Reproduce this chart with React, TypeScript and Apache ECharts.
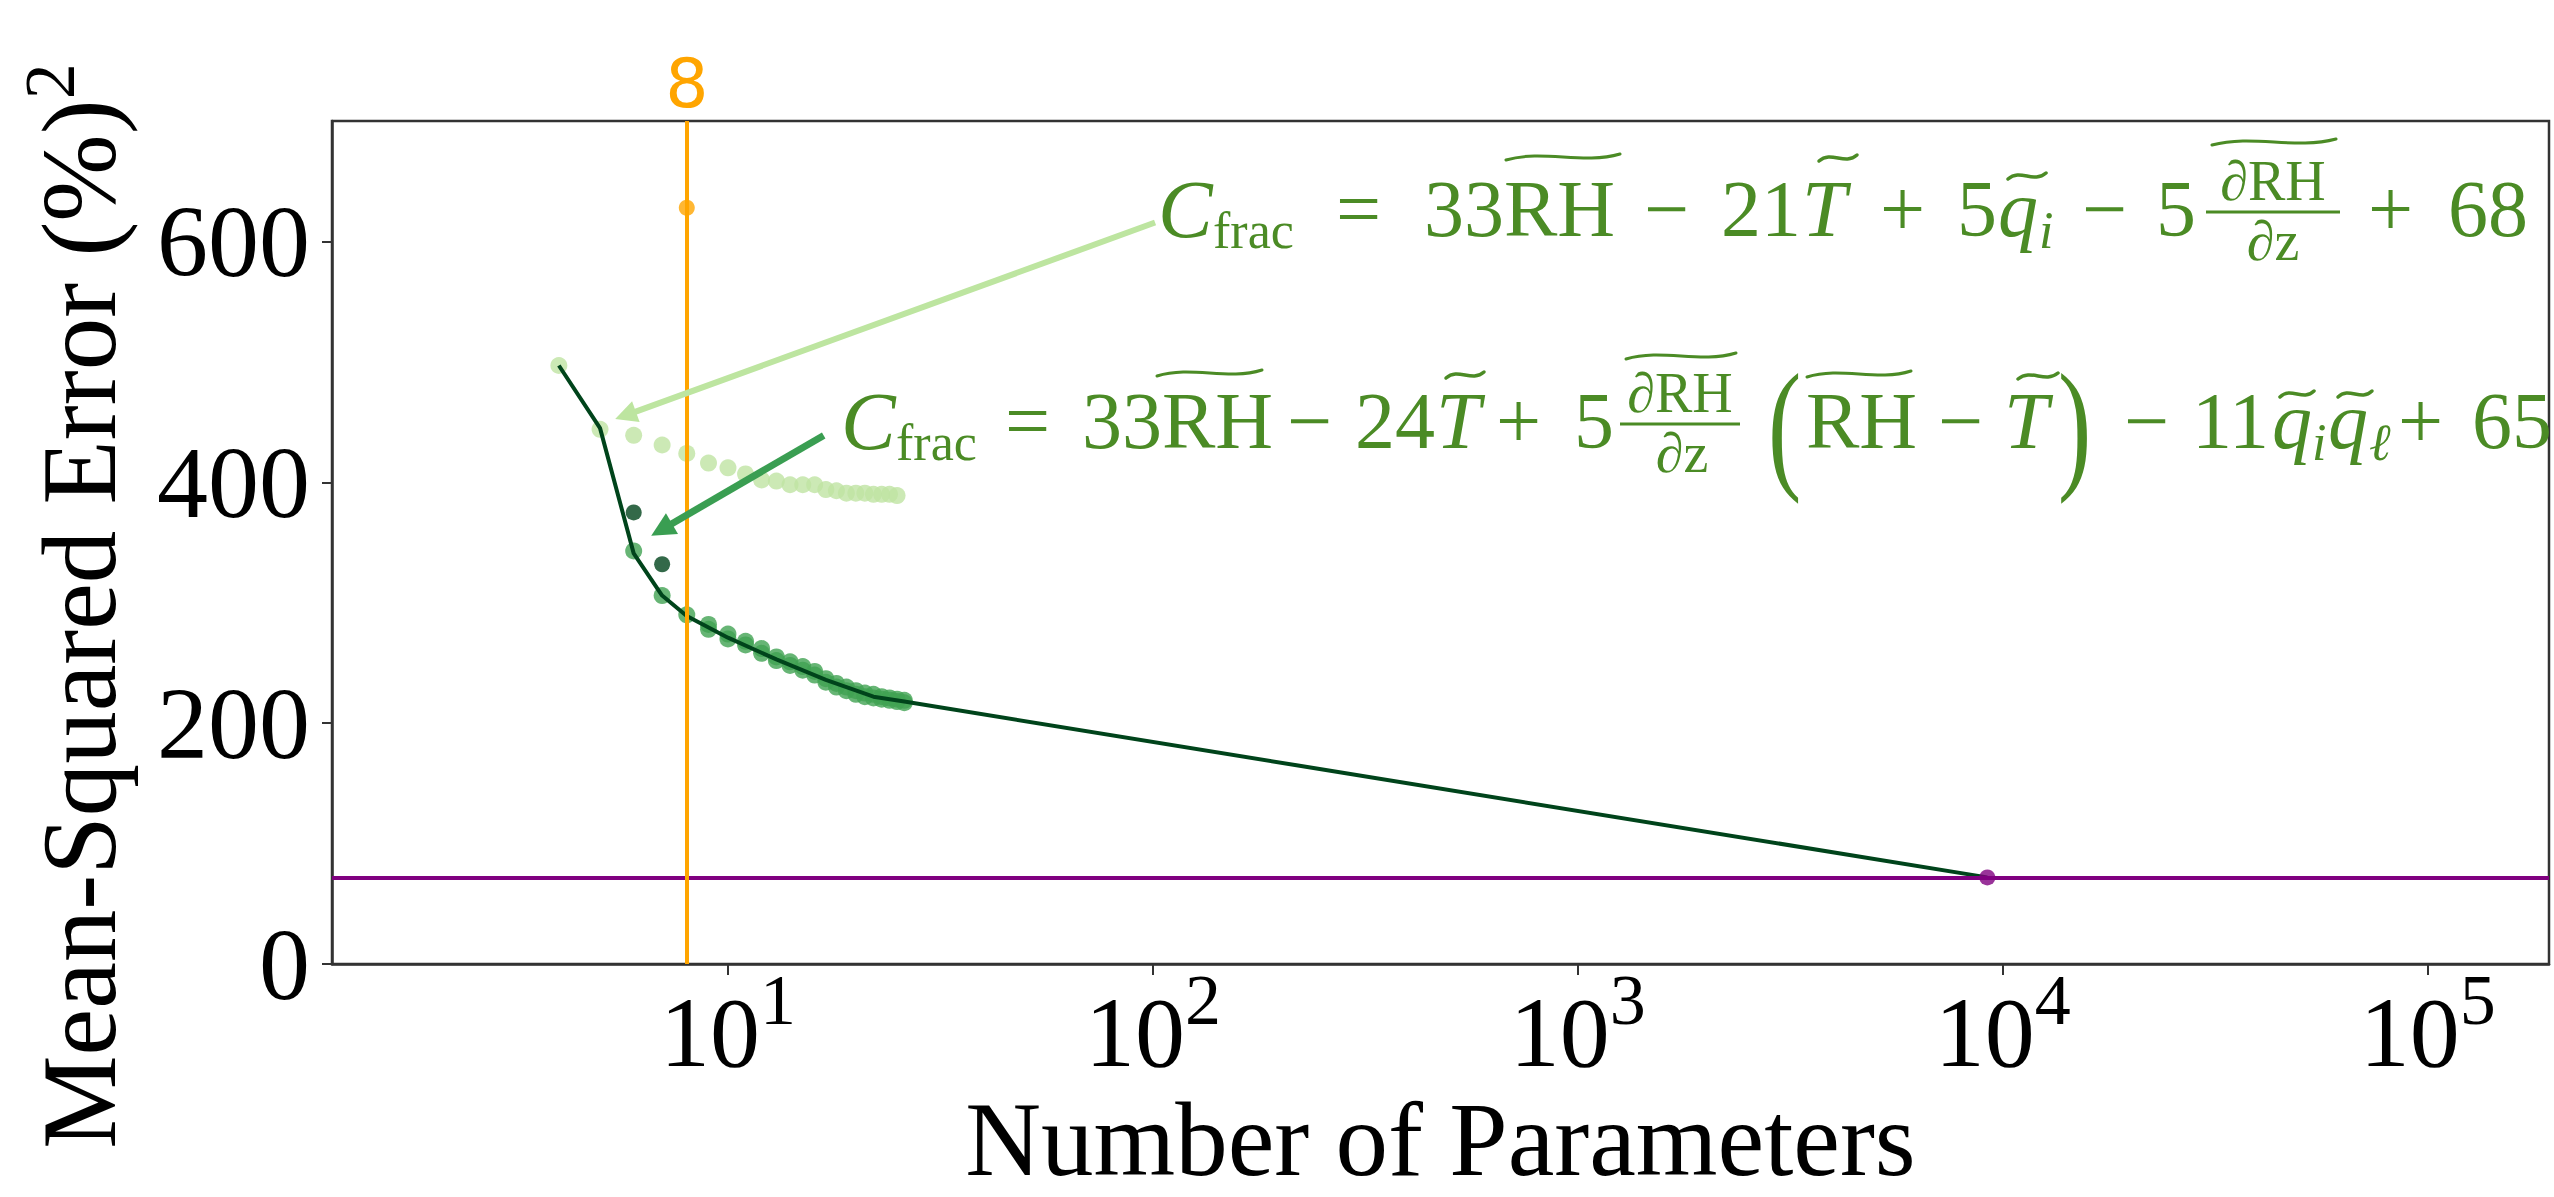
import React, { useEffect, useRef } from 'react';
import * as echarts from 'echarts';

// ---- data ----
const lightX = [4, 5, 6, 7, 8, 9, 10, 11, 12, 13, 14, 15, 16, 17, 18, 19, 20, 21, 22, 23, 24, 25];
const lightY = [497, 444, 439, 431, 424, 416, 412, 407, 402, 401, 398, 398, 398, 394, 393, 391, 391, 391, 390, 390, 390, 389];

const mediumX = [6, 7, 8, 9, 9, 10, 10, 11, 11, 12, 12, 13, 13, 14, 14, 15, 15, 16, 16, 17, 17, 18, 18, 19, 19, 20, 20, 21, 21, 22, 22, 23, 23, 24, 24, 25, 25, 26, 26];
const mediumY = [343, 306, 290, 282, 278, 274, 270, 268, 265, 262, 258, 255, 252, 251, 248, 247, 244, 243, 240, 237, 234, 233, 230, 230, 227, 227, 224, 225, 222, 224, 221, 222, 220, 221, 219, 220, 218, 219, 217];

const darkX = [6, 7];
const darkY = [375, 332];

const frontX = [4, 5, 6, 7, 8, 10, 13, 17, 22, 26, 9200];
const frontY = [497, 445, 341, 306, 289, 271, 253, 236, 222, 218, 72];

const chosenX = [8];
const chosenY = [628];
const nnX = [9200];
const nnY = [72];

const chosenComplexity = 8;
const nnError = 72;

const xTicks = [10, 100, 1000, 10000, 100000];
const yTicks = [0, 200, 400, 600];

// arrow anchors in data coordinates [x, y]
const arrow1From = [101.2, 615.7];
const arrow1To = [5.74, 455.6];
const arrow2From = [16.8, 438.9];
const arrow2To = [6.98, 360.7];

const zip = (xs: number[], ys: number[]) => xs.map((x, i) => [x, ys[i]]);

// ---- formula rendering helpers ----
const FC = '#4b8b25';
const SERIF = 'Liberation Serif';

function tok(text: string, x: number, baseline: number, size: number, italic = false, align = 'left') {
  return {
    type: 'text',
    x,
    y: baseline - 0.305 * size,
    z: 100,
    style: {
      text,
      fontSize: size,
      fontFamily: SERIF,
      fontStyle: italic ? 'italic' : 'normal',
      fill: FC,
      align,
      verticalAlign: 'middle',
    },
  };
}

function tilde(xa: number, xb: number, yc: number, amp: number, lw: number) {
  const w = xb - xa;
  return {
    type: 'bezierCurve',
    z: 100,
    shape: {
      x1: xa, y1: yc + amp * 0.6,
      cpx1: xa + w * 0.33, cpy1: yc - amp * 1.6,
      cpx2: xa + w * 0.67, cpy2: yc + amp * 1.6,
      x2: xb, y2: yc - amp * 0.6,
    },
    style: { stroke: FC, lineWidth: lw, fill: null, lineCap: 'round' },
  };
}

function bar(xa: number, xb: number, y: number) {
  return { type: 'line', z: 100, shape: { x1: xa, y1: y, x2: xb, y2: y }, style: { stroke: FC, lineWidth: 3 } };
}

function paren(text: string, x: number, yc: number) {
  return {
    type: 'text', x, y: yc, scaleY: 1.45, z: 100,
    style: { text, fontSize: 100, fontFamily: SERIF, fill: FC, align: 'left', verticalAlign: 'middle' },
  };
}

const M = 80; // main formula size
const S = 52; // subscript size
const F = 56; // fraction size
const CS = 82; // calligraphic C size

const B1 = 233;
const formula1 = [
  tok('C', 1158, B1 + 2, CS, true),
  tok('frac', 1213, B1 + 13, S),
  tok('=', 1336, B1, M),
  tok('33RH', 1424, B1, M),
  tilde(1506, 1620, 157, 5, 3),
  tok('\u2212', 1644, B1, M),
  tok('21', 1721, B1, M),
  tok('T', 1802, B1, M, true),
  tilde(1819, 1857, 158, 5, 3.5),
  tok('+', 1880, B1, M),
  tok('5', 1957, B1, M),
  tok('q', 1998, B1, M, true),
  tilde(2008, 2046, 176, 5, 3.5),
  tok('i', 2039, B1 + 13, S, true),
  tok('\u2212', 2082, B1, M),
  tok('5', 2156, B1, M),
  tok('\u2202RH', 2273, 198, F, false, 'center'),
  bar(2206, 2340, 212),
  tok('\u2202z', 2273, 258, F, false, 'center'),
  tilde(2212, 2336, 142, 5, 3),
  tok('+', 2368, B1, M),
  tok('68', 2448, B1, M),
];

const B2 = 445;
const formula2 = [
  tok('C', 841, B2 + 2, CS, true),
  tok('frac', 896, B2 + 13, S),
  tok('=', 1005, B2, M),
  tok('33RH', 1082, B2, M),
  tilde(1157, 1262, 373, 5, 3),
  tok('\u2212', 1287, B2, M),
  tok('24', 1355, B2, M),
  tok('T', 1436, B2, M, true),
  tilde(1446, 1484, 375, 5, 3.5),
  tok('+', 1496, B2, M),
  tok('5', 1574, B2, M),
  tok('\u2202RH', 1680, 410, F, false, 'center'),
  bar(1620, 1740, 424),
  tok('\u2202z', 1682, 470, F, false, 'center'),
  tilde(1626, 1736, 356, 5, 3),
  paren('(', 1768, 424),
  tok('RH', 1806, B2, M),
  tilde(1807, 1911, 374, 5, 3),
  tok('\u2212', 1938, B2, M),
  tok('T', 2004, B2, M, true),
  tilde(2018, 2058, 376, 5, 3.5),
  paren(')', 2058, 424),
  tok('\u2212', 2124, B2, M),
  tok('11', 2192, B2, M),
  tok('q', 2272, B2, M, true),
  tilde(2280, 2314, 394, 5, 3.5),
  tok('i', 2312, B2 + 13, S, true),
  tok('q', 2328, B2, M, true),
  tilde(2338, 2372, 394, 5, 3.5),
  tok('\u2113', 2369, B2 + 13, S, true),
  tok('+', 2398, B2, M),
  tok('65', 2472, B2, M),
];

const yTitle = {
  type: 'text',
  x: 73,
  y: 606,
  rotation: Math.PI / 2,
  z: 100,
  style: {
    text: '{b|Mean-Squared Error (%)}{s|2}',
    fontFamily: SERIF,
    fill: '#000',
    align: 'center',
    verticalAlign: 'middle',
    rich: {
      b: { fontSize: 105, lineHeight: 118, verticalAlign: 'bottom', fontFamily: SERIF, fill: '#000' },
      s: { fontSize: 72, lineHeight: 72, verticalAlign: 'top', fontFamily: SERIF, fill: '#000' },
    },
  },
};

export default function App() {
  const ref = useRef<HTMLDivElement>(null);

  useEffect(() => {
    const chart = echarts.init(ref.current!, null, { renderer: 'svg' });
    const axisColor = '#333';
    const option: any = {
      animation: false,
      backgroundColor: '#fff',
      grid: {
        left: 332,
        right: 5,
        top: 121,
        bottom: 214.5,
        show: true,
        borderColor: axisColor,
        borderWidth: 2.5,
        backgroundColor: 'transparent',
      },
      xAxis: {
        type: 'log',
        logBase: 10,
        min: 1.17,
        max: 193000,
        name: 'Number of Parameters',
        nameLocation: 'middle',
        nameGap: 118,
        nameTextStyle: { fontSize: 105, fontFamily: SERIF, color: '#000' },
        axisLine: { show: true, lineStyle: { color: axisColor, width: 2.5 } },
        axisTick: { show: true, inside: false, length: 11, lineStyle: { color: axisColor, width: 2 }, customValues: xTicks },
        minorTick: { show: false },
        splitLine: { show: false },
        axisLabel: {
          customValues: xTicks,
          margin: 0,
          color: '#000',
          fontFamily: SERIF,
          formatter: (v: number) => `{b|10}{s|${Math.round(Math.log10(v))}}`,
          rich: {
            b: { fontSize: 100, lineHeight: 118, verticalAlign: 'bottom', fontFamily: SERIF, color: '#000' },
            s: { fontSize: 72, lineHeight: 72, verticalAlign: 'top', fontFamily: SERIF, color: '#000' },
          },
        },
      },
      yAxis: {
        type: 'value',
        min: 0,
        max: 700,
        axisLine: { show: true, lineStyle: { color: axisColor, width: 2.5 } },
        axisTick: { show: true, inside: false, length: 10, lineStyle: { color: axisColor, width: 2 }, customValues: yTicks },
        splitLine: { show: false },
        axisLabel: {
          customValues: yTicks,
          margin: 22,
          fontSize: 102,
          fontFamily: SERIF,
          color: '#000',
        },
      },
      series: [
        {
          type: 'scatter',
          name: 'frac-light',
          data: zip(lightX, lightY),
          symbolSize: 17,
          itemStyle: { color: '#bfe4a2' },
          z: 2,
          silent: true,
        },
        {
          type: 'scatter',
          name: 'frac-medium',
          data: zip(mediumX, mediumY),
          symbolSize: 17,
          itemStyle: { color: '#41a352' },
          z: 2,
          silent: true,
        },
        {
          type: 'scatter',
          name: 'frac-dark',
          data: zip(darkX, darkY),
          symbolSize: 16,
          itemStyle: { color: '#00441b' },
          z: 2,
          silent: true,
        },
        {
          type: 'line',
          name: 'front',
          data: zip(frontX, frontY),
          showSymbol: false,
          symbol: 'none',
          lineStyle: { color: '#00441b', width: 4 },
          z: 3,
          silent: true,
        },
        {
          type: 'scatter',
          name: 'nn',
          data: zip(nnX, nnY),
          symbolSize: 16,
          itemStyle: { color: '#800080' },
          z: 4,
          silent: true,
          markLine: {
            silent: true,
            symbol: ['none', 'none'],
            label: { show: false },
            lineStyle: { color: '#800080', width: 4, type: 'solid' },
            data: [{ yAxis: nnError }],
          },
        },
        {
          type: 'scatter',
          name: 'chosen',
          data: zip(chosenX, chosenY),
          symbolSize: 16,
          itemStyle: { color: '#ffa500' },
          z: 5,
          silent: true,
          markLine: {
            silent: true,
            symbol: ['none', 'none'],
            lineStyle: { color: '#ffa500', width: 4, type: 'solid' },
            label: {
              show: true,
              position: 'end',
              formatter: String(chosenComplexity),
              color: '#ffa500',
              fontSize: 68,
              fontFamily: 'DejaVu Sans',
              distance: 4,
            },
            data: [{ xAxis: chosenComplexity }],
          },
        },
        {
          type: 'scatter',
          name: 'arrows',
          data: [],
          z: 6,
          silent: true,
          markLine: {
            silent: true,
            symbol: ['none', 'triangle'],
            label: { show: false },
            data: [
              [
                { coord: arrow1From, symbolSize: 22, lineStyle: { color: '#bde5a0', width: 6, type: 'solid' } },
                { coord: arrow1To, symbolSize: 22 },
              ],
              [
                { coord: arrow2From, symbolSize: 24, lineStyle: { color: '#3a9e52', width: 7, type: 'solid' } },
                { coord: arrow2To, symbolSize: 24 },
              ],
            ],
          },
        },
      ],
      graphic: [yTitle, ...formula1, ...formula2],
    };
    chart.setOption(option);
    return () => chart.dispose();
  }, []);

  return (
    <div
      ref={ref}
      style={{ position: 'fixed', left: 0, top: 0, width: '2554px', height: '1197px', background: '#fff' }}
    />
  );
}
